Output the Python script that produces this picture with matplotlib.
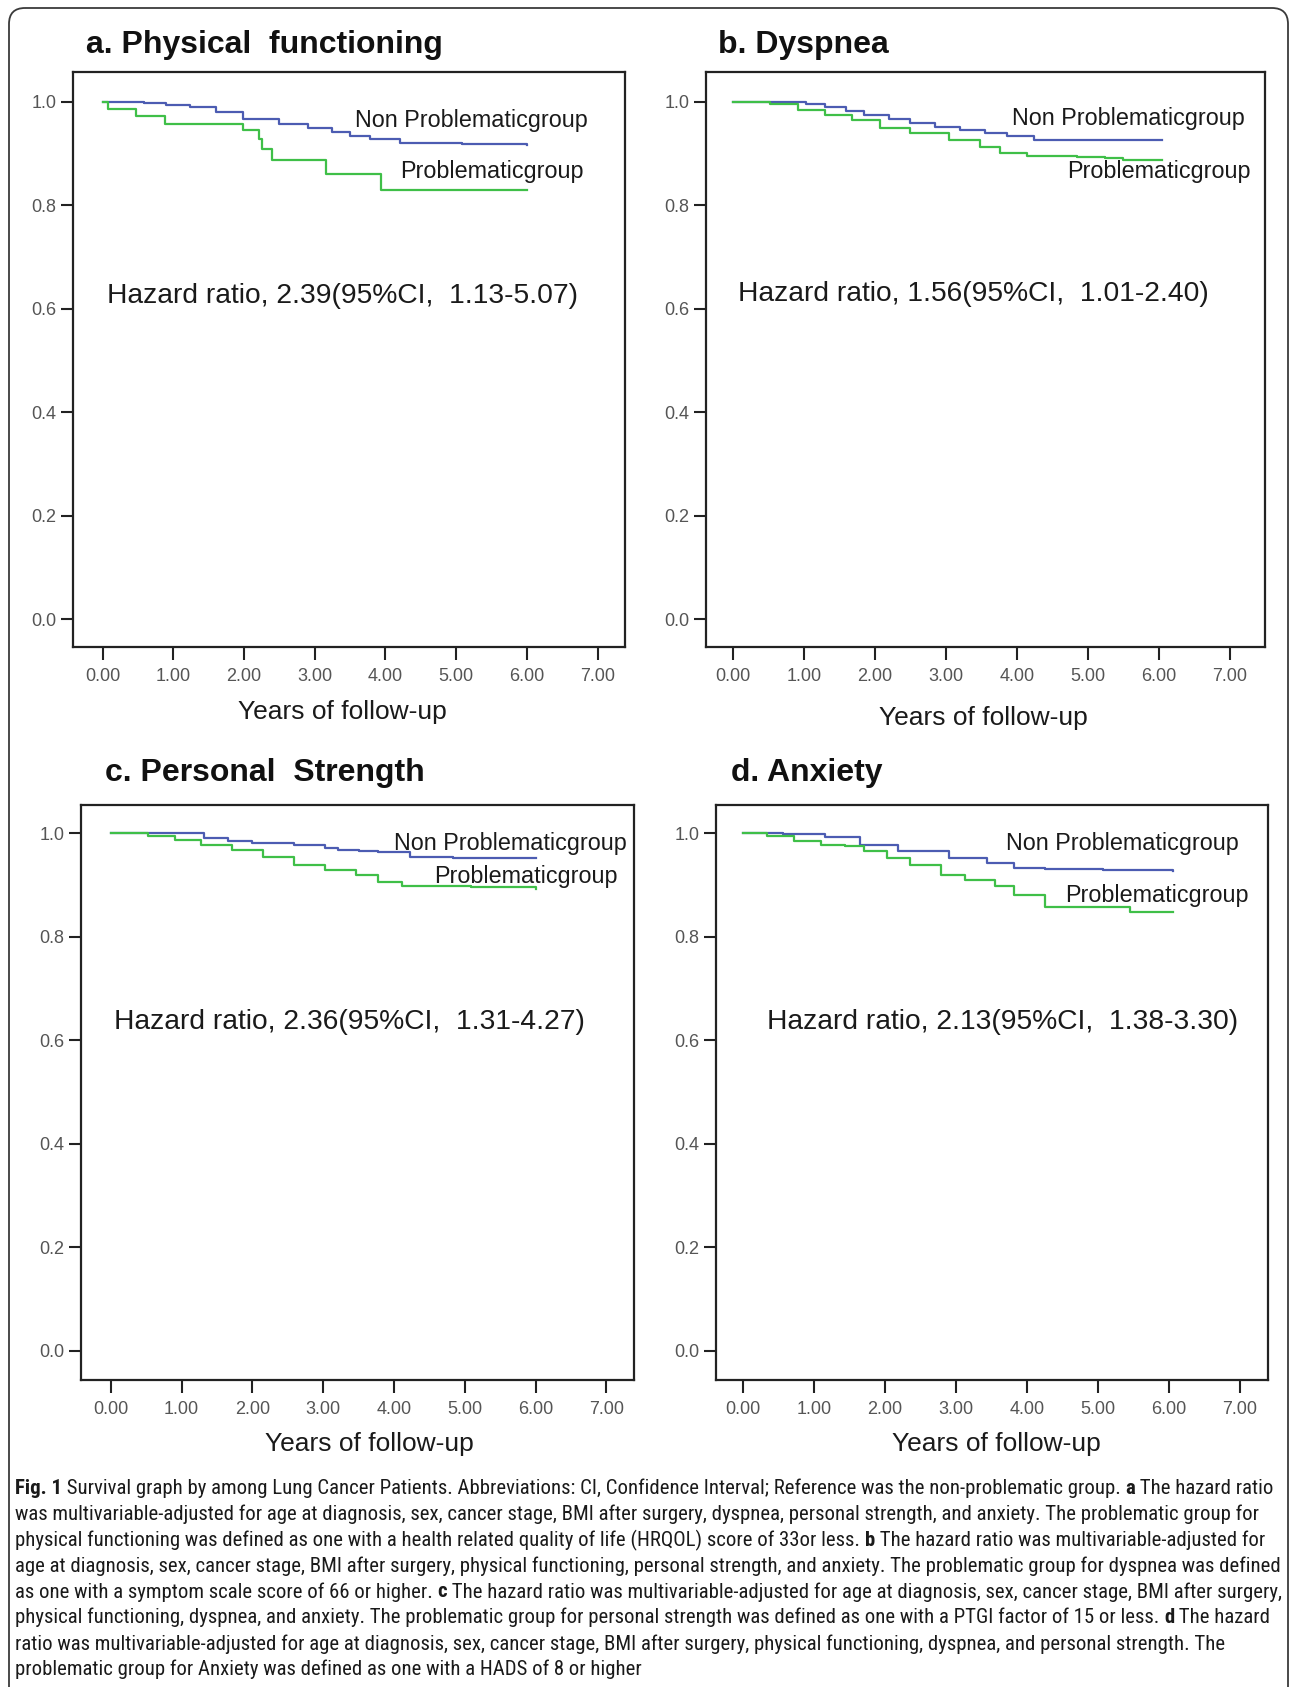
import matplotlib
matplotlib.use('Agg')
import matplotlib.pyplot as plt
from matplotlib.patches import FancyBboxPatch
from matplotlib import font_manager

# ---------------- data ----------------
x_ticks = [0, 1, 2, 3, 4, 5, 6, 7]
x_tick_labels = ['0.00', '1.00', '2.00', '3.00', '4.00', '5.00', '6.00', '7.00']
y_ticks = [0.0, 0.2, 0.4, 0.6, 0.8, 1.0]
y_tick_labels = ['0.0', '0.2', '0.4', '0.6', '0.8', '1.0']
x_label = 'Years of follow-up'
group_labels = ['Non Problematicgroup', 'Problematicgroup']
panel_titles = ['a. Physical  functioning', 'b. Dyspnea', 'c. Personal  Strength', 'd. Anxiety']
hr_texts = ['Hazard ratio, 2.39(95%CI,  1.13-5.07)',
            'Hazard ratio, 1.56(95%CI,  1.01-2.40)',
            'Hazard ratio, 2.36(95%CI,  1.31-4.27)',
            'Hazard ratio, 2.13(95%CI,  1.38-3.30)']

# a. Physical functioning
a_non_t = [0, 0.59, 0.9, 1.24, 1.6, 1.99, 2.5, 2.9, 3.24, 3.5, 3.78, 4.2, 5.08, 6.0]
a_non_s = [1.0, 0.998, 0.995, 0.99, 0.98, 0.968, 0.958, 0.95, 0.942, 0.935, 0.928, 0.921, 0.919, 0.916]
a_prob_t = [0, 0.08, 0.48, 0.89, 1.99, 2.21, 2.26, 2.4, 3.16, 3.94, 6.0]
a_prob_s = [1.0, 0.987, 0.972, 0.958, 0.945, 0.929, 0.91, 0.887, 0.861, 0.830, 0.830]
# b. Dyspnea
b_non_t = [0, 1.03, 1.3, 1.6, 1.85, 2.2, 2.5, 2.85, 3.2, 3.55, 3.87, 4.25, 5.5, 6.05]
b_non_s = [1.0, 0.997, 0.99, 0.983, 0.975, 0.967, 0.959, 0.952, 0.946, 0.94, 0.935, 0.927, 0.926, 0.926]
b_prob_t = [0, 0.53, 0.92, 1.3, 1.68, 2.07, 2.5, 3.05, 3.48, 3.76, 4.14, 4.85, 5.24, 5.5, 6.05]
b_prob_s = [1.0, 0.997, 0.984, 0.975, 0.965, 0.949, 0.94, 0.927, 0.913, 0.902, 0.895, 0.894, 0.891, 0.888, 0.888]
# c. Personal strength
c_non_t = [0, 1.31, 1.66, 2.0, 2.59, 3.02, 3.21, 3.51, 3.78, 4.22, 4.84, 6.0]
c_non_s = [1.0, 0.99, 0.984, 0.981, 0.977, 0.971, 0.968, 0.966, 0.963, 0.954, 0.951, 0.951]
c_prob_t = [0, 0.52, 0.9, 1.28, 1.71, 2.15, 2.59, 3.02, 3.46, 3.78, 4.11, 5.09, 6.0]
c_prob_s = [1.0, 0.995, 0.987, 0.977, 0.968, 0.954, 0.939, 0.929, 0.919, 0.906, 0.898, 0.895, 0.891]
# d. Anxiety
d_non_t = [0, 0.56, 1.16, 1.65, 2.19, 2.9, 3.44, 3.82, 4.26, 5.07, 6.05]
d_non_s = [1.0, 0.998, 0.992, 0.977, 0.965, 0.952, 0.942, 0.932, 0.93, 0.929, 0.927]
d_prob_t = [0, 0.34, 0.72, 1.1, 1.43, 1.7, 2.03, 2.35, 2.79, 3.12, 3.55, 3.82, 4.26, 5.45, 6.05]
d_prob_s = [1.0, 0.994, 0.984, 0.977, 0.974, 0.965, 0.952, 0.939, 0.919, 0.91, 0.897, 0.881, 0.858, 0.848, 0.848]

caption_lines = [
    [('Fig. 1', True), (' Survival graph by among Lung Cancer Patients. Abbreviations: CI, Confidence Interval; Reference was the non-problematic group. ', False), ('a', True), (' The hazard ratio', False)],
    [('was multivariable-adjusted for age at diagnosis, sex, cancer stage, BMI after surgery, dyspnea, personal strength, and anxiety. The problematic group for', False)],
    [('physical functioning was defined as one with a health related quality of life (HRQOL) score of 33or less. ', False), ('b', True), (' The hazard ratio was multivariable-adjusted for', False)],
    [('age at diagnosis, sex, cancer stage, BMI after surgery, physical functioning, personal strength, and anxiety. The problematic group for dyspnea was defined', False)],
    [('as one with a symptom scale score of 66 or higher. ', False), ('c', True), (' The hazard ratio was multivariable-adjusted for age at diagnosis, sex, cancer stage, BMI after surgery,', False)],
    [('physical functioning, dyspnea, and anxiety. The problematic group for personal strength was defined as one with a PTGI factor of 15 or less. ', False), ('d', True), (' The hazard', False)],
    [('ratio was multivariable-adjusted for age at diagnosis, sex, cancer stage, BMI after surgery, physical functioning, dyspnea, and personal strength. The', False)],
    [('problematic group for Anxiety was defined as one with a HADS of 8 or higher', False)],
]

# ---------------- layout / style ----------------
W, H = 1293, 1687
BLUE = '#4c5cb2'
GREEN = '#3fbf48'
TICKGRAY = '#555555'
SANS = ['Liberation Sans', 'DejaVu Sans']

# look for an installed condensed / narrow sans for the caption
cap_font = None
pref = ['Liberation Sans Narrow', 'Roboto Condensed', 'Open Sans Condensed', 'Noto Sans Condensed',
        'DejaVu Sans Condensed', 'Arial Narrow']
avail = {}
for f in font_manager.fontManager.ttflist:
    avail.setdefault(f.name, []).append(f)
for name in pref:
    if name in avail:
        cap_font = dict(family=[name, 'DejaVu Sans'])
        break
if cap_font is None:
    for f in font_manager.fontManager.ttflist:
        st = f.stretch
        if (isinstance(st, str) and 'condensed' in st and 'extra' not in st and 'ultra' not in st) or \
                'Narrow' in f.name or 'Condensed' in f.name:
            cap_font = dict(family=[f.name, 'DejaVu Sans'], stretch=st)
            break
if cap_font is None:
    cap_font = dict(family=['Liberation Sans', 'DejaVu Sans'])

panels = [
    dict(non=(a_non_t, a_non_s), prob=(a_prob_t, a_prob_s), box=(73, 625, 72, 647), x0=102.5, xs=70.74, y0=619, ys=517,
         title=(86, 53), xlab=(342, 712), non_lab=(3.57, 0.964), prob_lab=(4.21, 0.865), hr=(0.07, 0.625)),
    dict(non=(b_non_t, b_non_s), prob=(b_prob_t, b_prob_s), box=(706, 1265, 72, 647), x0=732.7, xs=71.0, y0=619, ys=517,
         title=(718, 53), xlab=(983, 718), non_lab=(3.94, 0.968), prob_lab=(4.71, 0.865), hr=(0.075, 0.629)),
    dict(non=(c_non_t, c_non_s), prob=(c_prob_t, c_prob_s), box=(81, 634, 805, 1380), x0=110.8, xs=70.8, y0=1350.7, ys=517.7,
         title=(105, 781), xlab=(369, 1444), non_lab=(4.0, 0.980), prob_lab=(4.56, 0.916), hr=(0.045, 0.635)),
    dict(non=(d_non_t, d_non_s), prob=(d_prob_t, d_prob_s), box=(716, 1268, 805, 1380), x0=743, xs=71.0, y0=1350.7, ys=517.7,
         title=(731, 781), xlab=(996, 1444), non_lab=(3.70, 0.980), prob_lab=(4.54, 0.880), hr=(0.34, 0.635)),
]

fig = plt.figure(figsize=(W / 100, H / 100), dpi=100)
fig.patch.set_facecolor('white')

bg = fig.add_axes([0, 0, 1, 1])
bg.set_xlim(0, W)
bg.set_ylim(H, 0)
bg.set_axis_off()
bg.add_patch(FancyBboxPatch((9, 8), 1279, H + 40, boxstyle='round,pad=0,rounding_size=16',
                            fc='none', ec='#3a3a3a', lw=1.3))

for i, p in enumerate(panels):
    l, r, t, b = p['box']
    ax = fig.add_axes([l / W, 1 - b / H, (r - l) / W, (b - t) / H])
    ax.set_xlim((l - p['x0']) / p['xs'], (r - p['x0']) / p['xs'])
    ax.set_ylim((p['y0'] - b) / p['ys'], (p['y0'] - t) / p['ys'])
    ax.step(p['non'][0], p['non'][1], where='post', color=BLUE, lw=1.6)
    ax.step(p['prob'][0], p['prob'][1], where='post', color=GREEN, lw=1.6)
    ax.set_xticks(x_ticks)
    ax.set_xticklabels(x_tick_labels)
    ax.set_yticks(y_ticks)
    ax.set_yticklabels(y_tick_labels)
    ax.tick_params(axis='x', length=9, width=1.5, pad=6, labelsize=13, labelcolor=TICKGRAY, color='#222222')
    ax.tick_params(axis='y', length=9, width=1.5, pad=3, labelsize=13, labelcolor=TICKGRAY, color='#222222')
    for lab in ax.get_xticklabels() + ax.get_yticklabels():
        lab.set_family(SANS)
    for sp in ax.spines.values():
        sp.set_linewidth(1.6)
        sp.set_color('#222222')
    ax.text(p['non_lab'][0], p['non_lab'][1], group_labels[0], fontsize=16.8, family=SANS,
            color='#1a1a1a', ha='left', va='center')
    ax.text(p['prob_lab'][0], p['prob_lab'][1], group_labels[1], fontsize=16.8, family=SANS,
            color='#1a1a1a', ha='left', va='center')
    ax.text(p['hr'][0], p['hr'][1], hr_texts[i], fontsize=20.3, family=SANS,
            color='#1a1a1a', ha='left', va='center')
    bg.text(p['title'][0], p['title'][1], panel_titles[i], fontsize=23, fontweight='bold',
            family=SANS, color='#111111', ha='left', va='baseline')
    bg.text(p['xlab'][0], p['xlab'][1], x_label, fontsize=19, family=SANS,
            color='#1a1a1a', ha='center', va='center')

# ---------------- caption ----------------
renderer = fig.canvas.get_renderer()


def seg_width(s, size, bold):
    kw = dict(fontsize=size, fontweight='bold' if bold else 'normal', **cap_font)
    t1 = bg.text(0, 0, '|' + s + '|', **kw)
    t2 = bg.text(0, 0, '||', **kw)
    w = t1.get_window_extent(renderer).width - t2.get_window_extent(renderer).width
    t1.remove()
    t2.remove()
    return w


base = 10.0
widest = max(sum(seg_width(s, base, bd) for s, bd in line) for line in caption_lines)
cap_size = min(base * 1258.0 / widest, 17.0)

cap_x0 = 15
cap_y = [1486.6, 1512.4, 1538.3, 1564.1, 1589.9, 1615.7, 1642.6, 1667.4]
for line, yy in zip(caption_lines, cap_y):
    x = cap_x0
    for s, bd in line:
        bg.text(x, yy, s, fontsize=cap_size, fontweight='bold' if bd else 'normal',
                color='#1a1a1a', ha='left', va='center_baseline', **cap_font)
        x += seg_width(s, cap_size, bd)

fig.savefig('out.png', dpi=100)
